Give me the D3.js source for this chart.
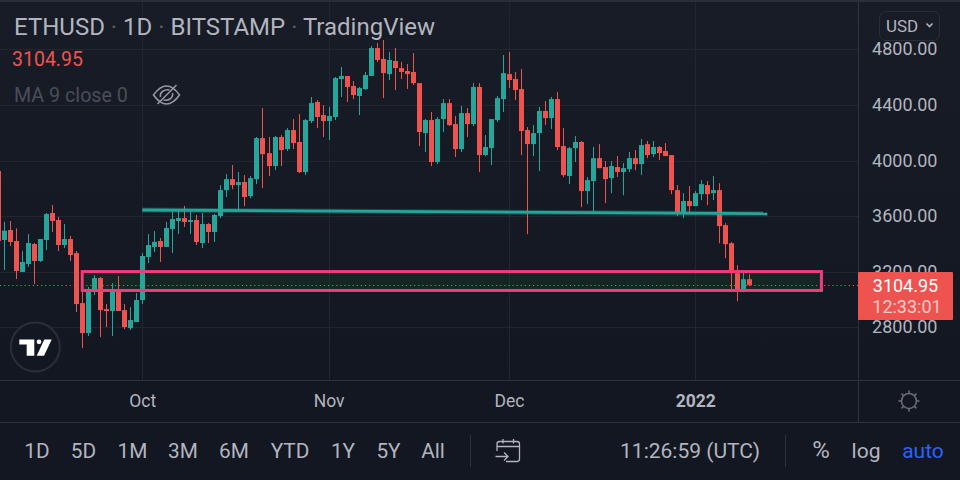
<!DOCTYPE html>
<html>
<head>
<title>ETHUSD 1D</title>
<script src="https://d3js.org/d3.v7.min.js"></script>
<style>
    html, body { margin: 0; padding: 0; background: #131722; overflow: hidden; }
    svg { display: block; }
    text { font-family: Roboto, sans-serif; }
    .axis path, .axis line { display: none; }
    .axis text { fill: #b2b5be; font-family: Roboto, sans-serif; }
</style>
</head>
<body>
<div id="chart"></div>
<script>
// daily candles, 7 Sep 2021 to 10 Jan 2022
const firstDay = Date.UTC(2021, 8, 7);
const lastDay = Date.UTC(2022, 0, 10);
const opens = [3925,3428,3500,3421,3198,3255,3399,3277,3428,3622,3572,3392,3435,3334,2974,2758,3068,3154,2931,2917,3061,2924,2794,2838,2996,3306,3378,3421,3378,3507,3565,3586,3558,3572,3406,3543,3486,3600,3787,3866,3823,3845,3744,3866,4161,4053,3960,4169,4082,4219,4133,3917,4284,4421,4327,4284,4313,4586,4608,4536,4464,4514,4608,4809,4730,4622,4716,4665,4644,4637,4557,4197,4291,3989,4298,4413,4262,4082,4341,4262,4529,4039,4089,4291,4442,4622,4586,4514,4219,4118,4197,4356,4305,4442,4104,3888,4089,4133,3780,3852,4017,3953,3873,3953,3917,3938,4017,3974,4118,4046,4097,4068,4039,3787,3621,3708,3672,3758,3823,3765,3787,3535,3405,3189,3074,3146];
const highs = [3925,3558,3565,3512,3349,3471,3406,3435,3622,3680,3594,3543,3457,3349,3080,3090,3176,3162,2967,3118,3169,2967,2946,3046,3334,3471,3493,3442,3558,3632,3637,3673,3637,3608,3622,3550,3615,3823,3902,3967,3917,3895,3888,4169,4377,4169,4176,4183,4233,4298,4334,4298,4457,4435,4399,4385,4601,4673,4608,4572,4529,4637,4824,4845,4867,4781,4809,4709,4694,4773,4557,4298,4349,4313,4442,4442,4320,4392,4377,4557,4557,4183,4298,4464,4759,4781,4637,4658,4241,4255,4385,4428,4457,4493,4233,4097,4176,4140,3881,4097,4118,3996,3996,4032,3981,4061,4075,4154,4140,4140,4104,4125,4039,3823,3765,3816,3780,3859,3852,3888,3837,3549,3413,3247,3211,3182];
const lows = [3050,3212,3385,3147,3198,3234,3111,3270,3356,3486,3349,3370,3277,2910,2650,2737,3032,2730,2802,2737,2917,2787,2780,2838,2967,3262,3342,3270,3378,3334,3471,3522,3471,3392,3370,3406,3414,3585,3737,3794,3643,3672,3729,3830,3801,3888,3931,3960,4068,4082,3909,3895,4269,4233,4169,4147,4291,4457,4421,4442,4327,4507,4608,4709,4449,4579,4507,4586,4514,4543,4104,4061,3960,3974,4205,4248,4025,4061,4169,4248,3917,4032,3967,4277,4349,4521,4435,4039,3470,4032,3924,4255,4226,4075,3881,3830,3989,3665,3686,3625,3945,3693,3765,3881,3751,3917,3931,3895,4017,4025,4003,4032,3758,3600,3585,3621,3672,3715,3679,3715,3405,3297,3067,2988,3060,3096];
const closes = [3421,3495,3414,3205,3270,3406,3277,3435,3615,3565,3392,3435,3320,2967,2758,3073,3154,2924,2917,3061,2917,2802,2852,2996,3313,3392,3414,3378,3514,3579,3586,3558,3572,3414,3543,3486,3608,3787,3866,3823,3845,3737,3873,4161,4046,3960,4169,4075,4219,4125,3917,4291,4413,4313,4284,4320,4593,4608,4529,4471,4521,4615,4809,4723,4629,4723,4665,4637,4622,4557,4205,4291,3989,4298,4413,4255,4082,4341,4262,4529,4039,4097,4298,4449,4629,4579,4507,4212,4118,4197,4356,4305,4442,4097,3895,4089,4133,3780,3859,4017,3945,3866,3960,3917,3945,4017,3974,4111,4039,4097,4053,4032,3787,3621,3708,3672,3765,3830,3758,3787,3528,3398,3189,3074,3146,3104.95];

const priceTicks = [2800, 3200, 3600, 4000, 4400, 4800];
const timeTicks = [Date.UTC(2021, 9, 1), Date.UTC(2021, 10, 1), Date.UTC(2021, 11, 1), Date.UTC(2022, 0, 1)];
const timeLabels = ["Oct", "Nov", "Dec", "2022"];
const lastPrice = 3104.95;

// the drawings on the chart
const zoneDays = [Date.UTC(2021, 8, 21), Date.UTC(2022, 0, 22)];
const zonePrices = [3201, 3065];
const trendDays = [Date.UTC(2021, 9, 1), Date.UTC(2022, 0, 13)];
const trendPrices = [3644, 3617];

const titleParts = ["ETHUSD", "1D", "BITSTAMP", "TradingView"];
const rangeButtons = ["1D", "5D", "1M", "3M", "6M", "YTD", "1Y", "5Y", "All"];
const rangeCenters = [37, 83.5, 132.5, 183, 234, 290, 343, 388.5, 433];

const width = 960, height = 480;
const paneRight = 858, paneBottom = 380, axisBottom = 422;
const up = "#26a69a", down = "#ef5350", gridColor = "#222631", lineColor = "#2e323d", textColor = "#b2b5be";

const days = d3.utcDay.range(firstDay, lastDay + 1);

const x = d3.scaleUtc().domain([Date.UTC(2021, 9, 1), lastDay]).range([142.3, 749.3]);
const y = d3.scaleLinear().domain([2800, 4800]).range([327.3, 49.3]);
const crisp = v => Math.round(v) + 0.5;

const svg = d3.select("#chart").append("svg").attr("width", width).attr("height", height);

const grad = svg.append("defs").append("linearGradient").attr("id", "bg")
    .attr("x1", 0).attr("x2", 0).attr("y1", 0).attr("y2", 1);
grad.append("stop").attr("offset", 0).attr("stop-color", "#181c27");
grad.append("stop").attr("offset", 1).attr("stop-color", "#131722");
svg.append("rect").attr("width", width).attr("height", height).attr("fill", "#131722");
svg.append("rect").attr("width", width).attr("height", paneBottom).attr("fill", "url(#bg)");

// grid
svg.append("g").selectAll("line").data(priceTicks).join("line")
    .attr("x1", 0).attr("x2", paneRight)
    .attr("y1", d => crisp(y(d))).attr("y2", d => crisp(y(d)))
    .attr("stroke", gridColor);
svg.append("g").selectAll("line").data(timeTicks).join("line")
    .attr("x1", d => crisp(x(d))).attr("x2", d => crisp(x(d)))
    .attr("y1", 0).attr("y2", paneBottom)
    .attr("stroke", gridColor);

// zone fill goes under the candles
const zone = {
    x: x(zoneDays[0]), y: y(zonePrices[0]),
    w: x(zoneDays[1]) - x(zoneDays[0]), h: y(zonePrices[1]) - y(zonePrices[0])
};
svg.append("rect").attr("x", zone.x).attr("y", zone.y).attr("width", zone.w).attr("height", zone.h)
    .attr("fill", "#2e8b20").attr("fill-opacity", 0.11);

// candles
const candles = svg.append("g").selectAll("g").data(days).join("g")
    .attr("fill", (d, i) => closes[i] >= opens[i] ? up : down)
    .attr("stroke", "none");
candles.append("rect")
    .attr("x", d => Math.round(x(d)))
    .attr("width", 1)
    .attr("y", (d, i) => y(highs[i]))
    .attr("height", (d, i) => y(lows[i]) - y(highs[i]));
candles.append("rect")
    .attr("x", d => Math.round(x(d)) - 2)
    .attr("width", 5)
    .attr("y", (d, i) => y(Math.max(opens[i], closes[i])))
    .attr("height", (d, i) => Math.max(1, Math.abs(y(opens[i]) - y(closes[i]))));

// last price line
svg.append("line").attr("x1", 0).attr("x2", paneRight)
    .attr("y1", crisp(y(lastPrice))).attr("y2", crisp(y(lastPrice)))
    .attr("stroke", down).attr("stroke-dasharray", "1.2 2.9");

// drawings
svg.append("rect").attr("x", zone.x).attr("y", zone.y).attr("width", zone.w).attr("height", zone.h)
    .attr("fill", "none").attr("stroke", "#f23a7c").attr("stroke-width", 3);
const trendLine = d3.line().x(d => x(d[0])).y(d => y(d[1]));
const trendPts = d3.zip(trendDays, trendPrices);
svg.append("path").attr("d", trendLine(trendPts)).attr("fill", "none")
    .attr("stroke", up).attr("stroke-opacity", 0.3).attr("stroke-width", 5);
svg.append("path").attr("d", trendLine(trendPts)).attr("fill", "none")
    .attr("stroke", up).attr("stroke-width", 2.8);

// frame lines
svg.append("rect").attr("width", width).attr("height", 2).attr("fill", "#2a2e39");
svg.append("line").attr("x1", 0).attr("x2", width).attr("y1", paneBottom + 0.5).attr("y2", paneBottom + 0.5).attr("stroke", lineColor);
svg.append("line").attr("x1", 0).attr("x2", width).attr("y1", axisBottom + 0.5).attr("y2", axisBottom + 0.5).attr("stroke", lineColor);
svg.append("line").attr("x1", paneRight + 0.5).attr("x2", paneRight + 0.5).attr("y1", 2).attr("y2", axisBottom).attr("stroke", lineColor);

// axes
const yAxis = svg.append("g").attr("class", "axis")
    .attr("transform", "translate(" + paneRight + ",0)")
    .call(d3.axisRight(y).tickValues(priceTicks).tickFormat(d3.format(".2f")).tickSize(0).tickPadding(0));
yAxis.selectAll("text").attr("x", 79.5).attr("y", -0.8).attr("text-anchor", "end").attr("dy", "0.36em").style("font-size", "18px");

const xAxis = svg.append("g").attr("class", "axis")
    .attr("transform", "translate(0," + paneBottom + ")")
    .call(d3.axisBottom(x).tickValues(timeTicks).tickFormat((d, i) => timeLabels[i]).tickSize(0).tickPadding(0));
xAxis.selectAll("text").attr("y", 27).attr("dy", 0).style("font-size", "17.5px")
    .style("font-weight", (d, i) => timeLabels[i] === "2022" ? 700 : 400);

function label(str, tx, ty, size, color, anchor) {
    return svg.append("text").attr("x", tx).attr("y", ty).attr("font-size", size)
        .attr("fill", color).attr("text-anchor", anchor || "start").text(str);
}

// legend, the dots between the title parts are dimmer
const title = label("", 14, 35, 24, textColor);
titleParts.forEach((part, i) => {
    if (i > 0) title.append("tspan").attr("fill-opacity", 0.45).text(" · ");
    title.append("tspan").text(part);
});
label("3104.95", 12, 66, 19.5, down);
label("MA 9 close 0", 14, 102, 19.7, "#4a4e59");

// eye icon
const eye = svg.append("g").attr("fill", "none").attr("stroke", "#9598a1").attr("stroke-width", 1.6)
    .attr("transform", "translate(166.5,95)");
eye.append("path").attr("d", "M-13,0 C-8,-7 -3,-9 0,-9 C3,-9 8,-7 13,0 C8,7 3,9 0,9 C-3,9 -8,7 -13,0 Z");
eye.append("path").attr("d", "M-6,2 C-7,-3 -2,-6 3,-5 M6,-2 C7,3 2,6 -3,5");
eye.append("path").attr("d", "M-9,9 L10,-10");

// USD button
svg.append("rect").attr("x", 879.5).attr("y", 11.5).attr("width", 60).attr("height", 29).attr("rx", 6)
    .attr("fill", "#181c27").attr("stroke", "#2a2e39");
label("USD", 886, 31.5, 17, textColor);
svg.append("path").attr("d", "M926.5,23.5 L929.5,26.5 L932.5,23.5").attr("fill", "none")
    .attr("stroke", textColor).attr("stroke-width", 1.6);

// last price tag
svg.append("rect").attr("x", paneRight).attr("y", 272).attr("width", 95).attr("height", 48).attr("rx", 1).attr("fill", down);
label("3104.95", 905.5, 291.5, 18, "#ffffff", "middle");
label("12:33:01", 907, 313, 18, "#ffffff", "middle").attr("fill-opacity", 0.7);

// logo
svg.append("circle").attr("cx", 35.3).attr("cy", 347).attr("r", 24.5)
    .attr("fill", "#131722").attr("stroke", "#2a2e39").attr("stroke-width", 2);
const logo = svg.append("g").attr("fill", "#ffffff").attr("transform", "translate(0,320)");
logo.append("path").attr("d", "M19.3,19.5 H34.3 V35.7 H26.7 V24.6 H19.3 Z");
logo.append("circle").attr("cx", 39).attr("cy", 21.8).attr("r", 2.4);
logo.append("path").attr("d", "M44.3,19.5 H51.7 L44,35.7 H36.7 Z");

// gear icon
const gear = svg.append("g").attr("transform", "translate(909,401)").attr("fill", "none").attr("stroke", "#6a6d78").attr("stroke-width", 1.6);
gear.append("circle").attr("r", 7.5);
gear.selectAll("line").data(d3.range(8)).join("line")
    .attr("x1", 0).attr("x2", 0).attr("y1", -8).attr("y2", -10.5)
    .attr("transform", d => "rotate(" + d * 45 + ")");

// bottom toolbar
svg.append("g").selectAll("text").data(rangeButtons).join("text")
    .attr("x", (d, i) => rangeCenters[i]).attr("y", 458).attr("font-size", 20.8)
    .attr("text-anchor", "middle").attr("fill", textColor).text(d => d);
svg.append("line").attr("x1", 470.5).attr("x2", 470.5).attr("y1", 435).attr("y2", 467).attr("stroke", lineColor);
svg.append("line").attr("x1", 785.5).attr("x2", 785.5).attr("y1", 435).attr("y2", 467).attr("stroke", lineColor);

const cal = svg.append("g").attr("fill", "none").attr("stroke", textColor).attr("stroke-width", 1.3);
cal.append("path").attr("d", "M497,451 V444 Q497,441.5 499.5,441.5 H517 Q519.5,441.5 519.5,444 V459 Q519.5,461.5 517,461.5 H506");
cal.append("path").attr("d", "M497,446.5 H519.5 M503,439 V443.5 M513.5,439 V443.5");
cal.append("path").attr("d", "M495.5,456.5 H507.5 M504,452.5 L508,456.5 L504,460.5");

label("11:26:59 (UTC)", 760, 458, 21, textColor, "end");
label("%", 821, 458, 24, textColor, "middle");
label("log", 866, 458, 21, textColor, "middle");
label("auto", 923, 458, 21, "#2962ff", "middle");
</script>
</body>
</html>
